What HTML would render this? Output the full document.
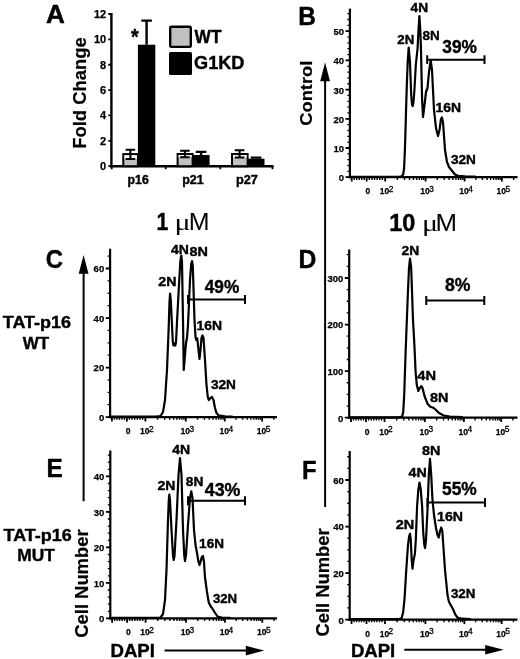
<!DOCTYPE html>
<html><head><meta charset="utf-8"><title>Figure</title>
<style>html,body{margin:0;padding:0;background:#fff}svg{display:block}</style></head>
<body>
<svg width="520" height="659" viewBox="0 0 520 659" font-family="Liberation Sans, sans-serif" fill="#000">
<rect width="520" height="659" fill="#fff"/>
<text transform="translate(45.95,23.4) scale(1.032,1)" font-size="25.3" font-weight="bold" stroke="#000" stroke-width="0.4">A</text>
<line x1="111.4" y1="13" x2="111.4" y2="167.4" stroke="#000" stroke-width="2.4"/>
<line x1="110.2" y1="166.2" x2="273.5" y2="166.2" stroke="#000" stroke-width="2.4"/>
<text x="106.2" y="170.2" font-size="11" font-weight="bold" text-anchor="end" stroke="#000" stroke-width="0.25" >0</text>
<text x="106.2" y="144.83" font-size="11" font-weight="bold" text-anchor="end" stroke="#000" stroke-width="0.25" >2</text>
<text x="106.2" y="119.47" font-size="11" font-weight="bold" text-anchor="end" stroke="#000" stroke-width="0.25" >4</text>
<text x="106.2" y="94.1" font-size="11" font-weight="bold" text-anchor="end" stroke="#000" stroke-width="0.25" >6</text>
<text x="106.2" y="68.73" font-size="11" font-weight="bold" text-anchor="end" stroke="#000" stroke-width="0.25" >8</text>
<text x="106.2" y="43.37" font-size="11" font-weight="bold" text-anchor="end" stroke="#000" stroke-width="0.25" >10</text>
<text x="106.2" y="18" font-size="11" font-weight="bold" text-anchor="end" stroke="#000" stroke-width="0.25" >12</text>
<path d="M108.3,166.2H111.4M108.3,140.83H111.4M108.3,115.47H111.4M108.3,90.1H111.4M108.3,64.73H111.4M108.3,39.37H111.4M108.3,14H111.4" fill="none" stroke="#000" stroke-width="1.8"/>
<path d="M111.7,166.2V169.2M165.7,166.2V169.2M220.3,166.2V169.2M272.5,166.2V169.2" fill="none" stroke="#000" stroke-width="1.8"/>
<text transform="translate(85.8,148.7) rotate(-90) scale(0.994,1)" font-size="18.5" font-weight="bold" stroke="#000" stroke-width="0.2">Fold Change</text>
<rect x="123.3" y="154.1" width="14.6" height="12.1" fill="#c0c0c0" stroke="#000" stroke-width="2"/>
<rect x="124.3" y="155.1" width="12.6" height="3.9" fill="#f2f2f2"/>
<rect x="137.9" y="44.7" width="17.4" height="121.5" fill="#000"/>
<path d="M130.4,149.8V159M125.6,149.8H135.2M125.6,159H135.2" fill="none" stroke="#000" stroke-width="2"/>
<path d="M146.6,20.6V44.7M141.3,20.6H151.9" fill="none" stroke="#000" stroke-width="2.4"/>
<text transform="translate(127.6,184.2) scale(0.983,1)" font-size="12.5" font-weight="bold" stroke="#000" stroke-width="0.4">p16</text>
<rect x="177.6" y="154" width="15" height="12.2" fill="#c0c0c0" stroke="#000" stroke-width="2"/>
<rect x="178.6" y="155" width="13" height="2.3" fill="#f2f2f2"/>
<rect x="192.6" y="155" width="17" height="11.2" fill="#000"/>
<path d="M184.9,150.7V157.3M180.1,150.7H189.7M180.1,157.3H189.7" fill="none" stroke="#000" stroke-width="2"/>
<path d="M201.1,151.9V155M195.8,151.9H206.4" fill="none" stroke="#000" stroke-width="2.4"/>
<text transform="translate(182.18,184.2) scale(1.006,1)" font-size="12.5" font-weight="bold" stroke="#000" stroke-width="0.4">p21</text>
<rect x="232" y="154" width="15.6" height="12.2" fill="#c0c0c0" stroke="#000" stroke-width="2"/>
<rect x="233" y="155" width="13.6" height="2.6" fill="#f2f2f2"/>
<rect x="247.6" y="158.7" width="16.9" height="7.5" fill="#000"/>
<path d="M239.6,150.2V157.6M234.8,150.2H244.4M234.8,157.6H244.4" fill="none" stroke="#000" stroke-width="2"/>
<path d="M256.05,157.6V158.7M250.75,157.6H261.35" fill="none" stroke="#000" stroke-width="2.4"/>
<text transform="translate(235.97,184.2) scale(1.019,1)" font-size="12.5" font-weight="bold" stroke="#000" stroke-width="0.4">p27</text>
<text transform="translate(130.99,43.6) scale(0.900,1)" font-size="22" font-weight="bold" stroke="#000" stroke-width="0.4">*</text>
<rect x="170.2" y="26.7" width="20.6" height="20.2" rx="1.2" fill="#c0c0c0" stroke="#000" stroke-width="2.4"/>
<rect x="169" y="52" width="23" height="23" rx="1.5" fill="#000"/>
<text transform="translate(194.6,43.2) scale(0.960,1)" font-size="18" font-weight="bold" stroke="#000" stroke-width="0.4">WT</text>
<text transform="translate(194.07,69.3) scale(1.008,1)" font-size="18" font-weight="bold" stroke="#000" stroke-width="0.4">G1KD</text>
<line x1="349.9" y1="8.6" x2="349.9" y2="178.3" stroke="#000" stroke-width="2.2"/>
<line x1="348.8" y1="177.2" x2="517.5" y2="177.2" stroke="#000" stroke-width="2.2"/>
<path d="M347.4,177.2H349.9M347.4,171.36H349.9M347.4,165.52H349.9M347.4,159.68H349.9M347.4,153.84H349.9M347.4,148H349.9M347.4,142.16H349.9M347.4,136.32H349.9M347.4,130.48H349.9M347.4,124.64H349.9M347.4,118.8H349.9M347.4,112.96H349.9M347.4,107.12H349.9M347.4,101.28H349.9M347.4,95.44H349.9M347.4,89.6H349.9M347.4,83.76H349.9M347.4,77.92H349.9M347.4,72.08H349.9M347.4,66.24H349.9M347.4,60.4H349.9M347.4,54.56H349.9M347.4,48.72H349.9M347.4,42.88H349.9M347.4,37.04H349.9M347.4,31.2H349.9M347.4,25.36H349.9M347.4,19.52H349.9M347.4,13.68H349.9" fill="none" stroke="#000" stroke-width="1.3"/>
<text x="344" y="181.1" font-size="9.5" font-weight="bold" text-anchor="end" stroke="#000" stroke-width="0.25" >0</text>
<text x="344" y="151.9" font-size="9.5" font-weight="bold" text-anchor="end" stroke="#000" stroke-width="0.25" >10</text>
<text x="344" y="122.7" font-size="9.5" font-weight="bold" text-anchor="end" stroke="#000" stroke-width="0.25" >20</text>
<text x="344" y="93.5" font-size="9.5" font-weight="bold" text-anchor="end" stroke="#000" stroke-width="0.25" >30</text>
<text x="344" y="64.3" font-size="9.5" font-weight="bold" text-anchor="end" stroke="#000" stroke-width="0.25" >40</text>
<text x="344" y="35.1" font-size="9.5" font-weight="bold" text-anchor="end" stroke="#000" stroke-width="0.25" >50</text>
<path d="M345.5,177.2H349.9M345.5,148H349.9M345.5,118.8H349.9M345.5,89.6H349.9M345.5,60.4H349.9M345.5,31.2H349.9" fill="none" stroke="#000" stroke-width="1.8"/>
<path d="M351.7,177.2V181.6M366.7,177.2V181.6M385.2,177.2V181.6M425.6,177.2V181.6M464.6,177.2V181.6M501.9,177.2V181.6" fill="none" stroke="#000" stroke-width="1.8"/>
<path d="M354.2,177.2V179.9M356.7,177.2V179.9M359.2,177.2V179.9M361.7,177.2V179.9M364.2,177.2V179.9M369.3,177.2V179.9M371.9,177.2V179.9M374.5,177.2V179.9M377.1,177.2V179.9M379.7,177.2V179.9M382.3,177.2V179.9M397.36,177.2V179.9M404.48,177.2V179.9M409.52,177.2V179.9M413.44,177.2V179.9M416.64,177.2V179.9M419.34,177.2V179.9M421.68,177.2V179.9M423.75,177.2V179.9M437.34,177.2V179.9M444.21,177.2V179.9M449.08,177.2V179.9M452.86,177.2V179.9M455.95,177.2V179.9M458.56,177.2V179.9M460.82,177.2V179.9M462.82,177.2V179.9M475.83,177.2V179.9M482.4,177.2V179.9M487.06,177.2V179.9M490.67,177.2V179.9M493.63,177.2V179.9M496.12,177.2V179.9M498.29,177.2V179.9M500.19,177.2V179.9M513.64,177.2V179.9" fill="none" stroke="#000" stroke-width="1.4"/>
<text x="367.9" y="194.1" font-size="8.5" font-weight="bold" text-anchor="middle" stroke="#000" stroke-width="0.25" >0</text>
<text x="384.6" y="194.1" font-size="8.5" font-weight="bold" text-anchor="middle" stroke="#000" stroke-width="0.25" >10</text>
<text x="388.8" y="191.6" font-size="8.4" font-weight="normal" stroke="#000" stroke-width="0.3">2</text>
<text x="425" y="194.1" font-size="8.5" font-weight="bold" text-anchor="middle" stroke="#000" stroke-width="0.25" >10</text>
<text x="429.2" y="191.6" font-size="8.4" font-weight="normal" stroke="#000" stroke-width="0.3">3</text>
<text x="464" y="194.1" font-size="8.5" font-weight="bold" text-anchor="middle" stroke="#000" stroke-width="0.25" >10</text>
<text x="468.2" y="191.6" font-size="8.4" font-weight="normal" stroke="#000" stroke-width="0.3">4</text>
<text x="501.3" y="194.1" font-size="8.5" font-weight="bold" text-anchor="middle" stroke="#000" stroke-width="0.25" >10</text>
<text x="505.5" y="191.6" font-size="8.4" font-weight="normal" stroke="#000" stroke-width="0.3">5</text>
<path d="M351.00,176.80 L399.00,176.80 L401.60,176.40 L403.20,174.50 L404.10,168.00 L404.90,150.00 L405.50,130.00 L406.20,105.00 L407.00,80.00 L407.80,60.00 L408.70,47.60 L410.00,62.00 L411.20,95.00 L412.00,104.50 L412.70,106.00 L413.40,103.00 L414.30,92.00 L415.80,65.00 L417.60,48.00 L418.60,28.00 L419.40,16.00 L420.30,30.00 L421.00,50.00 L422.10,100.00 L423.00,117.00 L424.50,105.00 L426.00,92.00 L427.50,88.00 L429.00,72.00 L430.70,60.50 L432.00,70.00 L434.00,110.00 L436.00,128.00 L438.00,136.00 L439.50,130.00 L441.00,119.00 L441.90,117.50 L443.00,122.00 L445.00,150.00 L447.00,162.00 L449.00,167.00 L451.00,169.50 L453.00,172.00 L455.00,174.50 L458.00,175.80 L465.00,176.40 L475.00,176.60" fill="none" stroke="#000" stroke-width="2.2" stroke-linejoin="round" stroke-linecap="round"/>
<text transform="translate(410.59,11.8) scale(1.056,1)" font-size="13" font-weight="bold" stroke="#000" stroke-width="0.4">4N</text>
<text transform="translate(397.34,43.6) scale(1.021,1)" font-size="13" font-weight="bold" stroke="#000" stroke-width="0.4">2N</text>
<text transform="translate(422.5,39.8) scale(1.037,1)" font-size="13" font-weight="bold" stroke="#000" stroke-width="0.4">8N</text>
<text transform="translate(435.39,112) scale(1.072,1)" font-size="13" font-weight="bold" stroke="#000" stroke-width="0.4">16N</text>
<text transform="translate(450.96,163.8) scale(1.048,1)" font-size="13" font-weight="bold" stroke="#000" stroke-width="0.4">32N</text>
<path d="M427.2,59.7H484.5M427.2,55.3V64.1M484.5,55.3V64.1" fill="none" stroke="#000" stroke-width="2"/>
<text transform="translate(442.37,52.8) scale(0.988,1)" font-size="17.5" font-weight="bold" stroke="#000" stroke-width="0.4">39%</text>
<text transform="translate(298.21,24.6) scale(0.965,1)" font-size="25.3" font-weight="bold" stroke="#000" stroke-width="0.4">B</text>
<text transform="translate(312.3,125.73) rotate(-90) scale(1.077,1)" font-size="17" font-weight="bold" stroke="#000" stroke-width="0.2">Control</text>
<line x1="325.1" y1="72.4" x2="325.1" y2="507" stroke="#000" stroke-width="2"/>
<polygon points="325.1,62.4 320.2,81.2 330,81.2" fill="#000"/>
<line x1="110.1" y1="248.7" x2="110.1" y2="418.2" stroke="#000" stroke-width="2.2"/>
<line x1="109" y1="417.1" x2="277" y2="417.1" stroke="#000" stroke-width="2.2"/>
<path d="M107.6,417.1H110.1M107.6,404.72H110.1M107.6,392.33H110.1M107.6,379.95H110.1M107.6,367.57H110.1M107.6,355.18H110.1M107.6,342.8H110.1M107.6,330.42H110.1M107.6,318.03H110.1M107.6,305.65H110.1M107.6,293.26H110.1M107.6,280.88H110.1M107.6,268.5H110.1M107.6,256.11H110.1" fill="none" stroke="#000" stroke-width="1.3"/>
<text x="104.2" y="421" font-size="9.5" font-weight="bold" text-anchor="end" stroke="#000" stroke-width="0.25" >0</text>
<text x="104.2" y="371.47" font-size="9.5" font-weight="bold" text-anchor="end" stroke="#000" stroke-width="0.25" >20</text>
<text x="104.2" y="321.93" font-size="9.5" font-weight="bold" text-anchor="end" stroke="#000" stroke-width="0.25" >40</text>
<text x="104.2" y="272.4" font-size="9.5" font-weight="bold" text-anchor="end" stroke="#000" stroke-width="0.25" >60</text>
<path d="M105.7,417.1H110.1M105.7,367.57H110.1M105.7,318.03H110.1M105.7,268.5H110.1" fill="none" stroke="#000" stroke-width="1.8"/>
<path d="M111.9,417.1V421.5M126.9,417.1V421.5M145.4,417.1V421.5M185.8,417.1V421.5M224.8,417.1V421.5M262.1,417.1V421.5" fill="none" stroke="#000" stroke-width="1.8"/>
<path d="M114.4,417.1V419.8M116.9,417.1V419.8M119.4,417.1V419.8M121.9,417.1V419.8M124.4,417.1V419.8M129.5,417.1V419.8M132.1,417.1V419.8M134.7,417.1V419.8M137.3,417.1V419.8M139.9,417.1V419.8M142.5,417.1V419.8M157.56,417.1V419.8M164.68,417.1V419.8M169.72,417.1V419.8M173.64,417.1V419.8M176.84,417.1V419.8M179.54,417.1V419.8M181.88,417.1V419.8M183.95,417.1V419.8M197.54,417.1V419.8M204.41,417.1V419.8M209.28,417.1V419.8M213.06,417.1V419.8M216.15,417.1V419.8M218.76,417.1V419.8M221.02,417.1V419.8M223.02,417.1V419.8M236.03,417.1V419.8M242.6,417.1V419.8M247.26,417.1V419.8M250.87,417.1V419.8M253.83,417.1V419.8M256.32,417.1V419.8M258.49,417.1V419.8M260.39,417.1V419.8M273.84,417.1V419.8" fill="none" stroke="#000" stroke-width="1.4"/>
<text x="128.1" y="434" font-size="8.5" font-weight="bold" text-anchor="middle" stroke="#000" stroke-width="0.25" >0</text>
<text x="144.8" y="434" font-size="8.5" font-weight="bold" text-anchor="middle" stroke="#000" stroke-width="0.25" >10</text>
<text x="149" y="431.5" font-size="8.4" font-weight="normal" stroke="#000" stroke-width="0.3">2</text>
<text x="185.2" y="434" font-size="8.5" font-weight="bold" text-anchor="middle" stroke="#000" stroke-width="0.25" >10</text>
<text x="189.4" y="431.5" font-size="8.4" font-weight="normal" stroke="#000" stroke-width="0.3">3</text>
<text x="224.2" y="434" font-size="8.5" font-weight="bold" text-anchor="middle" stroke="#000" stroke-width="0.25" >10</text>
<text x="228.4" y="431.5" font-size="8.4" font-weight="normal" stroke="#000" stroke-width="0.3">4</text>
<text x="261.5" y="434" font-size="8.5" font-weight="bold" text-anchor="middle" stroke="#000" stroke-width="0.25" >10</text>
<text x="265.7" y="431.5" font-size="8.4" font-weight="normal" stroke="#000" stroke-width="0.3">5</text>
<path d="M111.00,416.70 L156.00,416.70 L160.50,416.00 L163.00,412.00 L165.00,400.00 L167.00,370.00 L168.60,330.00 L169.50,302.00 L170.10,293.70 L170.80,300.00 L172.00,325.00 L172.80,342.00 L173.50,345.50 L174.40,343.50 L175.30,345.50 L176.00,342.00 L177.00,322.00 L178.70,290.00 L180.30,262.00 L181.25,255.50 L182.00,262.00 L183.00,320.00 L183.75,370.00 L184.60,360.00 L186.00,343.00 L187.00,338.00 L188.00,325.00 L190.00,280.00 L191.20,264.00 L192.00,261.00 L192.80,266.00 L194.50,320.00 L195.50,337.00 L196.30,340.00 L197.30,338.50 L198.50,350.00 L199.50,359.00 L200.50,350.00 L201.50,338.00 L202.50,335.50 L203.50,338.00 L205.00,360.00 L206.50,385.00 L207.80,397.00 L208.75,400.00 L210.00,398.50 L212.00,397.00 L213.50,400.00 L215.00,408.00 L216.50,413.00 L218.50,415.30 L225.00,416.40 L232.00,416.70" fill="none" stroke="#000" stroke-width="2.2" stroke-linejoin="round" stroke-linecap="round"/>
<text transform="translate(171.04,253.75) scale(1.078,1)" font-size="13" font-weight="bold" stroke="#000" stroke-width="0.4">4N</text>
<text transform="translate(158.25,286.25) scale(1.097,1)" font-size="13" font-weight="bold" stroke="#000" stroke-width="0.4">2N</text>
<text transform="translate(189.57,256.25) scale(1.108,1)" font-size="13" font-weight="bold" stroke="#000" stroke-width="0.4">8N</text>
<text transform="translate(196.59,330) scale(1.075,1)" font-size="13" font-weight="bold" stroke="#000" stroke-width="0.4">16N</text>
<text transform="translate(210.91,388.75) scale(1.050,1)" font-size="13" font-weight="bold" stroke="#000" stroke-width="0.4">32N</text>
<path d="M188,299.5H245M188,295.1V303.9M245,295.1V303.9" fill="none" stroke="#000" stroke-width="2"/>
<text transform="translate(204.74,293) scale(0.984,1)" font-size="17.5" font-weight="bold" stroke="#000" stroke-width="0.4">49%</text>
<text transform="translate(45.85,267.6) scale(0.941,1)" font-size="25.3" font-weight="bold" stroke="#000" stroke-width="0.4">C</text>
<text transform="translate(2.72,327.6) scale(1.060,1)" font-size="17" font-weight="bold" stroke="#000" stroke-width="0.4">TAT-p16</text>
<text transform="translate(22.8,348.8) scale(0.998,1)" font-size="17" font-weight="bold" stroke="#000" stroke-width="0.4">WT</text>
<line x1="83.6" y1="265" x2="83.6" y2="501.2" stroke="#000" stroke-width="2"/>
<polygon points="83.6,255 78.7,273.8 88.5,273.8" fill="#000"/>
<line x1="349.2" y1="249.5" x2="349.2" y2="418.8" stroke="#000" stroke-width="2.2"/>
<line x1="348.1" y1="417.7" x2="517.5" y2="417.7" stroke="#000" stroke-width="2.2"/>
<path d="M346.7,417.7H349.2M346.7,406.06H349.2M346.7,394.41H349.2M346.7,382.77H349.2M346.7,371.13H349.2M346.7,359.49H349.2M346.7,347.84H349.2M346.7,336.2H349.2M346.7,324.56H349.2M346.7,312.92H349.2M346.7,301.27H349.2M346.7,289.63H349.2M346.7,277.99H349.2M346.7,266.35H349.2M346.7,254.7H349.2" fill="none" stroke="#000" stroke-width="1.3"/>
<text x="343.3" y="421.6" font-size="9.5" font-weight="bold" text-anchor="end" stroke="#000" stroke-width="0.25" >0</text>
<text x="343.3" y="375.03" font-size="9.5" font-weight="bold" text-anchor="end" stroke="#000" stroke-width="0.25" >100</text>
<text x="343.3" y="328.46" font-size="9.5" font-weight="bold" text-anchor="end" stroke="#000" stroke-width="0.25" >200</text>
<text x="343.3" y="281.89" font-size="9.5" font-weight="bold" text-anchor="end" stroke="#000" stroke-width="0.25" >300</text>
<path d="M344.8,417.7H349.2M344.8,371.13H349.2M344.8,324.56H349.2M344.8,277.99H349.2" fill="none" stroke="#000" stroke-width="1.8"/>
<path d="M351,417.7V422.1M366,417.7V422.1M384.5,417.7V422.1M424.9,417.7V422.1M463.9,417.7V422.1M501.2,417.7V422.1" fill="none" stroke="#000" stroke-width="1.8"/>
<path d="M353.5,417.7V420.4M356,417.7V420.4M358.5,417.7V420.4M361,417.7V420.4M363.5,417.7V420.4M368.6,417.7V420.4M371.2,417.7V420.4M373.8,417.7V420.4M376.4,417.7V420.4M379,417.7V420.4M381.6,417.7V420.4M396.66,417.7V420.4M403.78,417.7V420.4M408.82,417.7V420.4M412.74,417.7V420.4M415.94,417.7V420.4M418.64,417.7V420.4M420.98,417.7V420.4M423.05,417.7V420.4M436.64,417.7V420.4M443.51,417.7V420.4M448.38,417.7V420.4M452.16,417.7V420.4M455.25,417.7V420.4M457.86,417.7V420.4M460.12,417.7V420.4M462.12,417.7V420.4M475.13,417.7V420.4M481.7,417.7V420.4M486.36,417.7V420.4M489.97,417.7V420.4M492.93,417.7V420.4M495.42,417.7V420.4M497.59,417.7V420.4M499.49,417.7V420.4M512.94,417.7V420.4" fill="none" stroke="#000" stroke-width="1.4"/>
<text x="367.2" y="434.6" font-size="8.5" font-weight="bold" text-anchor="middle" stroke="#000" stroke-width="0.25" >0</text>
<text x="383.9" y="434.6" font-size="8.5" font-weight="bold" text-anchor="middle" stroke="#000" stroke-width="0.25" >10</text>
<text x="388.1" y="432.1" font-size="8.4" font-weight="normal" stroke="#000" stroke-width="0.3">2</text>
<text x="424.3" y="434.6" font-size="8.5" font-weight="bold" text-anchor="middle" stroke="#000" stroke-width="0.25" >10</text>
<text x="428.5" y="432.1" font-size="8.4" font-weight="normal" stroke="#000" stroke-width="0.3">3</text>
<text x="463.3" y="434.6" font-size="8.5" font-weight="bold" text-anchor="middle" stroke="#000" stroke-width="0.25" >10</text>
<text x="467.5" y="432.1" font-size="8.4" font-weight="normal" stroke="#000" stroke-width="0.3">4</text>
<text x="500.6" y="434.6" font-size="8.5" font-weight="bold" text-anchor="middle" stroke="#000" stroke-width="0.25" >10</text>
<text x="504.8" y="432.1" font-size="8.4" font-weight="normal" stroke="#000" stroke-width="0.3">5</text>
<path d="M351.00,417.30 L399.00,417.30 L402.20,416.60 L403.20,412.00 L404.20,395.00 L405.70,350.00 L407.60,300.00 L409.00,268.00 L410.00,258.70 L411.20,268.00 L413.00,320.00 L414.40,345.00 L415.60,372.00 L416.80,385.00 L418.30,391.00 L419.50,388.50 L421.25,386.20 L422.50,388.00 L424.50,396.00 L427.50,403.70 L430.00,406.50 L433.75,408.00 L436.00,410.00 L439.00,413.00 L443.75,415.50 L450.00,416.60 L462.00,417.20" fill="none" stroke="#000" stroke-width="2.2" stroke-linejoin="round" stroke-linecap="round"/>
<text transform="translate(401.52,254.5) scale(1.064,1)" font-size="13" font-weight="bold" stroke="#000" stroke-width="0.4">2N</text>
<text transform="translate(417.28,380) scale(1.126,1)" font-size="13" font-weight="bold" stroke="#000" stroke-width="0.4">4N</text>
<text transform="translate(430.07,402) scale(1.108,1)" font-size="13" font-weight="bold" stroke="#000" stroke-width="0.4">8N</text>
<path d="M426.25,300.5H484.3M426.25,296.1V304.9M484.3,296.1V304.9" fill="none" stroke="#000" stroke-width="2"/>
<text transform="translate(444.97,291.25) scale(1.007,1)" font-size="17.5" font-weight="bold" stroke="#000" stroke-width="0.4">8%</text>
<text transform="translate(298.49,267.7) scale(0.977,1)" font-size="25.3" font-weight="bold" stroke="#000" stroke-width="0.4">D</text>
<line x1="110.3" y1="450.5" x2="110.3" y2="619.5" stroke="#000" stroke-width="2.2"/>
<line x1="109.2" y1="618.4" x2="277" y2="618.4" stroke="#000" stroke-width="2.2"/>
<path d="M107.8,618.4H110.3M107.8,611.3H110.3M107.8,604.2H110.3M107.8,597.1H110.3M107.8,590H110.3M107.8,582.9H110.3M107.8,575.8H110.3M107.8,568.7H110.3M107.8,561.6H110.3M107.8,554.5H110.3M107.8,547.4H110.3M107.8,540.3H110.3M107.8,533.2H110.3M107.8,526.1H110.3M107.8,519H110.3M107.8,511.9H110.3M107.8,504.8H110.3M107.8,497.7H110.3M107.8,490.6H110.3M107.8,483.5H110.3M107.8,476.4H110.3M107.8,469.3H110.3M107.8,462.2H110.3M107.8,455.1H110.3" fill="none" stroke="#000" stroke-width="1.3"/>
<text x="104.4" y="622.3" font-size="9.5" font-weight="bold" text-anchor="end" stroke="#000" stroke-width="0.25" >0</text>
<text x="104.4" y="586.8" font-size="9.5" font-weight="bold" text-anchor="end" stroke="#000" stroke-width="0.25" >10</text>
<text x="104.4" y="551.3" font-size="9.5" font-weight="bold" text-anchor="end" stroke="#000" stroke-width="0.25" >20</text>
<text x="104.4" y="515.8" font-size="9.5" font-weight="bold" text-anchor="end" stroke="#000" stroke-width="0.25" >30</text>
<text x="104.4" y="480.3" font-size="9.5" font-weight="bold" text-anchor="end" stroke="#000" stroke-width="0.25" >40</text>
<path d="M105.9,618.4H110.3M105.9,582.9H110.3M105.9,547.4H110.3M105.9,511.9H110.3M105.9,476.4H110.3" fill="none" stroke="#000" stroke-width="1.8"/>
<path d="M112.1,618.4V622.8M127.1,618.4V622.8M145.6,618.4V622.8M186,618.4V622.8M225,618.4V622.8M262.3,618.4V622.8" fill="none" stroke="#000" stroke-width="1.8"/>
<path d="M114.6,618.4V621.1M117.1,618.4V621.1M119.6,618.4V621.1M122.1,618.4V621.1M124.6,618.4V621.1M129.7,618.4V621.1M132.3,618.4V621.1M134.9,618.4V621.1M137.5,618.4V621.1M140.1,618.4V621.1M142.7,618.4V621.1M157.76,618.4V621.1M164.88,618.4V621.1M169.92,618.4V621.1M173.84,618.4V621.1M177.04,618.4V621.1M179.74,618.4V621.1M182.08,618.4V621.1M184.15,618.4V621.1M197.74,618.4V621.1M204.61,618.4V621.1M209.48,618.4V621.1M213.26,618.4V621.1M216.35,618.4V621.1M218.96,618.4V621.1M221.22,618.4V621.1M223.22,618.4V621.1M236.23,618.4V621.1M242.8,618.4V621.1M247.46,618.4V621.1M251.07,618.4V621.1M254.03,618.4V621.1M256.52,618.4V621.1M258.69,618.4V621.1M260.59,618.4V621.1M274.04,618.4V621.1" fill="none" stroke="#000" stroke-width="1.4"/>
<text x="128.3" y="635.3" font-size="8.5" font-weight="bold" text-anchor="middle" stroke="#000" stroke-width="0.25" >0</text>
<text x="145" y="635.3" font-size="8.5" font-weight="bold" text-anchor="middle" stroke="#000" stroke-width="0.25" >10</text>
<text x="149.2" y="632.8" font-size="8.4" font-weight="normal" stroke="#000" stroke-width="0.3">2</text>
<text x="185.4" y="635.3" font-size="8.5" font-weight="bold" text-anchor="middle" stroke="#000" stroke-width="0.25" >10</text>
<text x="189.6" y="632.8" font-size="8.4" font-weight="normal" stroke="#000" stroke-width="0.3">3</text>
<text x="224.4" y="635.3" font-size="8.5" font-weight="bold" text-anchor="middle" stroke="#000" stroke-width="0.25" >10</text>
<text x="228.6" y="632.8" font-size="8.4" font-weight="normal" stroke="#000" stroke-width="0.3">4</text>
<text x="261.7" y="635.3" font-size="8.5" font-weight="bold" text-anchor="middle" stroke="#000" stroke-width="0.25" >10</text>
<text x="265.9" y="632.8" font-size="8.4" font-weight="normal" stroke="#000" stroke-width="0.3">5</text>
<path d="M112.00,617.80 L155.00,617.80 L160.50,617.50 L163.00,614.00 L165.00,600.00 L166.50,570.00 L168.00,520.00 L168.80,500.00 L169.30,494.50 L170.00,500.00 L171.50,530.00 L173.00,556.00 L173.75,560.00 L174.50,556.00 L176.50,520.00 L178.50,475.00 L180.00,458.00 L181.50,475.00 L183.00,530.00 L184.30,556.00 L185.00,561.00 L186.00,555.00 L188.00,525.00 L190.00,498.00 L191.25,491.30 L192.50,498.00 L194.00,530.00 L195.50,545.00 L197.00,553.00 L198.50,562.00 L199.50,565.00 L200.50,562.00 L201.80,557.00 L203.00,556.00 L204.00,562.00 L205.00,577.50 L207.00,592.00 L208.75,602.50 L210.50,606.00 L212.50,608.70 L214.50,612.00 L217.50,616.50 L222.00,617.50 L230.00,617.80" fill="none" stroke="#000" stroke-width="2.2" stroke-linejoin="round" stroke-linecap="round"/>
<text transform="translate(172.29,454.25) scale(1.078,1)" font-size="13" font-weight="bold" stroke="#000" stroke-width="0.4">4N</text>
<text transform="translate(157.51,490) scale(1.080,1)" font-size="13" font-weight="bold" stroke="#000" stroke-width="0.4">2N</text>
<text transform="translate(185.84,486.25) scale(1.059,1)" font-size="13" font-weight="bold" stroke="#000" stroke-width="0.4">8N</text>
<text transform="translate(199.12,548) scale(1.041,1)" font-size="13" font-weight="bold" stroke="#000" stroke-width="0.4">16N</text>
<text transform="translate(212.92,603) scale(1.017,1)" font-size="13" font-weight="bold" stroke="#000" stroke-width="0.4">32N</text>
<path d="M188,500.75H245M188,496.35V505.15M245,496.35V505.15" fill="none" stroke="#000" stroke-width="2"/>
<text transform="translate(204.73,495.5) scale(1.020,1)" font-size="17.5" font-weight="bold" stroke="#000" stroke-width="0.4">43%</text>
<text transform="translate(46.41,476.5) scale(0.965,1)" font-size="25.3" font-weight="bold" stroke="#000" stroke-width="0.4">E</text>
<text transform="translate(3.52,540.6) scale(1.060,1)" font-size="17" font-weight="bold" stroke="#000" stroke-width="0.4">TAT-p16</text>
<text transform="translate(17.37,561.3) scale(1.022,1)" font-size="17" font-weight="bold" stroke="#000" stroke-width="0.4">MUT</text>
<text transform="translate(88.3,637.74) rotate(-90) scale(1.023,1)" font-size="18" font-weight="bold" stroke="#000" stroke-width="0.2">Cell Number</text>
<text transform="translate(110.49,657.4) scale(1.032,1)" font-size="18" font-weight="bold" stroke="#000" stroke-width="0.4">DAPI</text>
<line x1="164.6" y1="650.6" x2="254.4" y2="650.6" stroke="#000" stroke-width="2"/>
<polygon points="264.4,650.6 245.8,645.8 245.8,655.4" fill="#000"/>
<line x1="349.7" y1="451" x2="349.7" y2="620.7" stroke="#000" stroke-width="2.2"/>
<line x1="348.6" y1="619.6" x2="517.5" y2="619.6" stroke="#000" stroke-width="2.2"/>
<path d="M347.2,619.6H349.7M347.2,607.97H349.7M347.2,596.33H349.7M347.2,584.7H349.7M347.2,573.07H349.7M347.2,561.43H349.7M347.2,549.8H349.7M347.2,538.17H349.7M347.2,526.53H349.7M347.2,514.9H349.7M347.2,503.26H349.7M347.2,491.63H349.7M347.2,480H349.7M347.2,468.36H349.7M347.2,456.73H349.7" fill="none" stroke="#000" stroke-width="1.3"/>
<text x="343.8" y="623.5" font-size="9.5" font-weight="bold" text-anchor="end" stroke="#000" stroke-width="0.25" >0</text>
<text x="343.8" y="576.97" font-size="9.5" font-weight="bold" text-anchor="end" stroke="#000" stroke-width="0.25" >20</text>
<text x="343.8" y="530.43" font-size="9.5" font-weight="bold" text-anchor="end" stroke="#000" stroke-width="0.25" >40</text>
<text x="343.8" y="483.9" font-size="9.5" font-weight="bold" text-anchor="end" stroke="#000" stroke-width="0.25" >60</text>
<path d="M345.3,619.6H349.7M345.3,573.07H349.7M345.3,526.53H349.7M345.3,480H349.7" fill="none" stroke="#000" stroke-width="1.8"/>
<path d="M351.5,619.6V624M366.5,619.6V624M385,619.6V624M425.4,619.6V624M464.4,619.6V624M501.7,619.6V624" fill="none" stroke="#000" stroke-width="1.8"/>
<path d="M354,619.6V622.3M356.5,619.6V622.3M359,619.6V622.3M361.5,619.6V622.3M364,619.6V622.3M369.1,619.6V622.3M371.7,619.6V622.3M374.3,619.6V622.3M376.9,619.6V622.3M379.5,619.6V622.3M382.1,619.6V622.3M397.16,619.6V622.3M404.28,619.6V622.3M409.32,619.6V622.3M413.24,619.6V622.3M416.44,619.6V622.3M419.14,619.6V622.3M421.48,619.6V622.3M423.55,619.6V622.3M437.14,619.6V622.3M444.01,619.6V622.3M448.88,619.6V622.3M452.66,619.6V622.3M455.75,619.6V622.3M458.36,619.6V622.3M460.62,619.6V622.3M462.62,619.6V622.3M475.63,619.6V622.3M482.2,619.6V622.3M486.86,619.6V622.3M490.47,619.6V622.3M493.43,619.6V622.3M495.92,619.6V622.3M498.09,619.6V622.3M499.99,619.6V622.3M513.44,619.6V622.3" fill="none" stroke="#000" stroke-width="1.4"/>
<text x="367.7" y="636.5" font-size="8.5" font-weight="bold" text-anchor="middle" stroke="#000" stroke-width="0.25" >0</text>
<text x="384.4" y="636.5" font-size="8.5" font-weight="bold" text-anchor="middle" stroke="#000" stroke-width="0.25" >10</text>
<text x="388.6" y="634" font-size="8.4" font-weight="normal" stroke="#000" stroke-width="0.3">2</text>
<text x="424.8" y="636.5" font-size="8.5" font-weight="bold" text-anchor="middle" stroke="#000" stroke-width="0.25" >10</text>
<text x="429" y="634" font-size="8.4" font-weight="normal" stroke="#000" stroke-width="0.3">3</text>
<text x="463.8" y="636.5" font-size="8.5" font-weight="bold" text-anchor="middle" stroke="#000" stroke-width="0.25" >10</text>
<text x="468" y="634" font-size="8.4" font-weight="normal" stroke="#000" stroke-width="0.3">4</text>
<text x="501.1" y="636.5" font-size="8.5" font-weight="bold" text-anchor="middle" stroke="#000" stroke-width="0.25" >10</text>
<text x="505.3" y="634" font-size="8.4" font-weight="normal" stroke="#000" stroke-width="0.3">5</text>
<path d="M351.00,619.20 L398.00,619.20 L401.60,618.20 L403.20,612.00 L404.60,598.00 L406.25,570.00 L408.00,545.00 L409.20,536.00 L410.00,533.75 L410.80,540.00 L411.70,560.00 L412.50,568.75 L413.30,562.00 L414.10,557.50 L414.90,554.00 L415.80,540.00 L417.10,506.00 L418.30,490.00 L419.50,482.50 L420.70,489.00 L422.10,506.00 L423.20,532.00 L424.20,544.00 L425.00,548.00 L426.00,540.00 L427.50,510.00 L428.80,475.00 L430.00,458.75 L431.20,475.00 L432.50,500.00 L434.00,515.00 L436.00,528.00 L437.50,535.00 L438.75,537.50 L440.00,531.00 L441.25,527.50 L442.30,531.00 L443.50,548.00 L445.00,570.00 L447.50,595.00 L449.00,602.00 L451.25,606.00 L453.00,609.00 L455.00,614.00 L457.50,617.60 L462.00,618.70 L470.00,619.20" fill="none" stroke="#000" stroke-width="2.2" stroke-linejoin="round" stroke-linecap="round"/>
<text transform="translate(422.07,455) scale(1.108,1)" font-size="13" font-weight="bold" stroke="#000" stroke-width="0.4">8N</text>
<text transform="translate(408.54,476.75) scale(1.094,1)" font-size="13" font-weight="bold" stroke="#000" stroke-width="0.4">4N</text>
<text transform="translate(395.74,528.75) scale(1.113,1)" font-size="13" font-weight="bold" stroke="#000" stroke-width="0.4">2N</text>
<text transform="translate(437.08,521.25) scale(1.086,1)" font-size="13" font-weight="bold" stroke="#000" stroke-width="0.4">16N</text>
<text transform="translate(450.92,598) scale(1.028,1)" font-size="13" font-weight="bold" stroke="#000" stroke-width="0.4">32N</text>
<path d="M427.5,502.5H485M427.5,498.1V506.9M485,498.1V506.9" fill="none" stroke="#000" stroke-width="2"/>
<text transform="translate(441.98,494.5) scale(0.992,1)" font-size="17.5" font-weight="bold" stroke="#000" stroke-width="0.4">55%</text>
<text transform="translate(302.06,478.8) scale(0.938,1)" font-size="25.3" font-weight="bold" stroke="#000" stroke-width="0.4">F</text>
<text transform="translate(328.9,636.53) rotate(-90) scale(1.021,1)" font-size="18" font-weight="bold" stroke="#000" stroke-width="0.2">Cell Number</text>
<text transform="translate(350.89,657) scale(1.032,1)" font-size="18" font-weight="bold" stroke="#000" stroke-width="0.4">DAPI</text>
<line x1="404.3" y1="649.8" x2="493.8" y2="649.8" stroke="#000" stroke-width="2"/>
<polygon points="503.8,649.8 485.2,645 485.2,654.6" fill="#000"/>
<text transform="translate(156.46,230.3) scale(0.900,1)" font-size="23.5" font-weight="bold" stroke="#000" stroke-width="0.4">1</text>
<text transform="translate(174.4,230.3) scale(1.25,1)" font-size="24" font-family="Liberation Serif, DejaVu Serif, serif">μ</text>
<text transform="translate(188.81,230.3) scale(1.061,1)" font-size="23.5" font-weight="normal">M</text>
<text transform="translate(389.17,230.8) scale(0.999,1)" font-size="23.5" font-weight="bold" stroke="#000" stroke-width="0.4">10</text>
<text transform="translate(422,230.8) scale(1.25,1)" font-size="24" font-family="Liberation Serif, DejaVu Serif, serif">μ</text>
<text transform="translate(435.53,230.8) scale(1.099,1)" font-size="23.5" font-weight="normal">M</text>
</svg>
</body></html>
